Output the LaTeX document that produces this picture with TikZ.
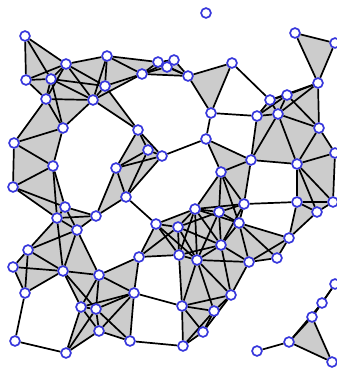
\documentclass[tikz,border=0pt]{standalone}
\pgfdeclarelayer{bg}
\pgfdeclarelayer{mid}
\pgfsetlayers{bg,mid,main}
\definecolor{vblue}{RGB}{55,55,220}
\definecolor{tgray}{RGB}{204,204,204}
\newcommand\dsq[2]{\numexpr(\csname px#1\endcsname-\csname px#2\endcsname)*(\csname px#1\endcsname-\csname px#2\endcsname)+(\csname py#1\endcsname-\csname py#2\endcsname)*(\csname py#1\endcsname-\csname py#2\endcsname)\relax}
\begin{document}
\begin{tikzpicture}[x=1pt,y=-1pt,
  vtx/.style={circle,draw=vblue,fill=white,line width=1.7pt,minimum size=9.8pt,inner sep=0pt},
  edge/.style={black,line width=1.7pt},
  tri/.style={fill=tgray}]
\useasboundingbox (0,0) rectangle (337,370);
\foreach \x/\y [count=\i] in {25/36, 66/64, 107/56, 26/80, 51/79, 105/86, 46/99, 93/100, 142/74, 158/62, 167/67, 174/60, 188/76, 206/13, 232/63, 295/33, 335/43, 318/83, 287/95, 270/100, 257/116, 278/114, 319/128, 335/153, 297/164, 251/160, 221/172, 211/113, 206/139, 138/130, 148/150, 162/156, 116/168, 63/128, 14/143, 53/166, 13/187, 65/207, 57/218, 96/216, 77/230, 28/250, 13/267, 63/271, 99/275, 126/197, 156/224, 178/227, 195/209, 219/212, 221/245, 139/257, 179/255, 197/260, 244/204, 239/223, 297/202, 317/212, 333/202, 289/238, 277/258, 249/262, 25/293, 81/307, 96/309, 99/331, 15/341, 66/353, 134/293, 182/306, 214/311, 231/295, 203/332, 130/341, 183/346, 257/351, 289/342, 312/317, 322/303, 335/284, 332/362}{
  \node[vtx] (v\i) at (\x,\y) {};
  \expandafter\xdef\csname px\i\endcsname{\x}
  \expandafter\xdef\csname py\i\endcsname{\y}
}
% edges: pairs closer than the threshold
\foreach \i in {1,...,80}{
  \pgfmathtruncatemacro\ip{\i+1}
  \foreach \j in {\ip,...,81}{
    \ifnum\dsq{\i}{\j}<3113
      \expandafter\gdef\csname e-\i-\j\endcsname{}
      \begin{pgfonlayer}{mid}\draw[edge] (v\i) -- (v\j);\end{pgfonlayer}
    \fi
  }
}
% filled triangles
\foreach \i in {1,...,79}{
  \pgfmathtruncatemacro\ip{\i+1}
  \foreach \j in {\ip,...,80}{
    \ifcsname e-\i-\j\endcsname
      \pgfmathtruncatemacro\jp{\j+1}
      \foreach \k in {\jp,...,81}{
        \ifcsname e-\i-\k\endcsname\ifcsname e-\j-\k\endcsname
          \begin{pgfonlayer}{bg}\fill[tri] (v\i.center) -- (v\j.center) -- (v\k.center) -- cycle;\end{pgfonlayer}
        \fi\fi
      }
    \fi
  }
}
\end{tikzpicture}
\end{document}
